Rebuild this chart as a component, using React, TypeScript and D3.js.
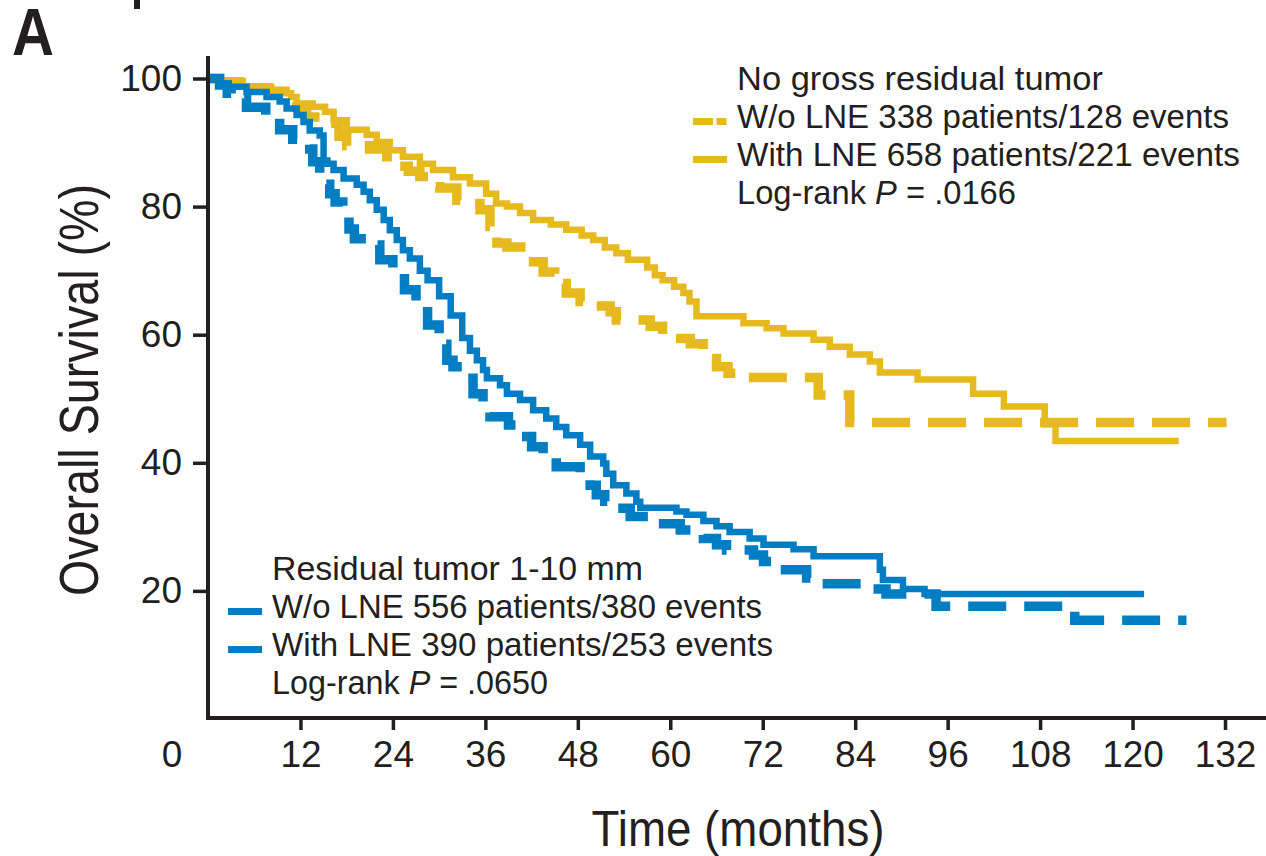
import React, { useRef, useEffect } from 'react';
import * as d3 from 'd3';

// [month, survival %] — survival drops to the value at that month (step after)
const noResWithLne: [number, number][] = [
  [0, 100], [1.6, 99.6], [4.5, 98.8], [7.8, 98.2], [9.3, 97.7], [10.8, 97.1], [11.5, 96.1],
  [13.6, 95.6], [15.2, 94.8], [16.3, 93.5], [18, 92], [20.6, 91.2], [21.9, 90.1], [23.6, 88.8],
  [25.3, 87.8], [27.5, 86.7], [29.2, 85.7], [31.8, 84.6], [34, 83.6], [36.1, 82], [37.4, 80.5],
  [38.8, 80], [40.5, 79], [42.2, 77.9], [44.5, 77.2], [46.5, 76.4], [48.5, 75.5], [50, 74.8],
  [51.5, 73.6], [53, 72.7], [54.5, 71.7], [57, 70.5], [58, 69.3], [59, 68.5], [60.5, 67.5],
  [61.7, 66.5], [62.5, 65.2], [63.4, 62.9], [69.5, 61.8], [72.5, 61], [74.7, 60.2], [78.6, 59.2],
  [80.7, 58.1], [83.3, 56.9], [85.9, 55.8], [87.2, 54.1], [92.1, 53], [99.3, 50.8], [103.3, 48.8],
  [108.6, 46], [110, 43.4],
];
const noResWithLneEnd = 126;

const noResWoLne: [number, number][] = [
  [0, 100], [1.5, 99.5], [4, 99], [6, 98.5], [8, 98], [10, 97], [11.5, 95.5], [12.8, 94],
  [15, 93], [17, 91], [18, 89.5], [21, 89], [23.2, 87.8], [24, 86.3], [26, 85.5], [27.5, 84.7],
  [28.8, 83.1], [30.1, 82.9], [32.3, 81], [34.4, 80.5], [35.3, 79.5], [36.6, 76.9], [37.5, 74.3],
  [38.8, 73.7], [41.3, 71.4], [43.5, 69.8], [45, 68], [46.5, 66.5], [48.3, 65.2], [50, 64.5],
  [52.2, 63.6], [53, 62.3], [57.4, 61.3], [59, 59.4], [62.6, 58.6], [64.3, 56.3], [66, 55],
  [67.5, 54], [69, 53.3], [79.2, 50.6], [83.3, 46.3],
];
const noResWoLneEnd = 132.2;

const resWithLne: [number, number][] = [
  [0, 100], [1.6, 99.2], [2.5, 98.7], [5, 97.9], [7.6, 97.1], [9.3, 96.4], [10.2, 95.3],
  [11.5, 94.3], [12.4, 93.2], [13.2, 91.9], [14.5, 91.1], [15, 87.2], [15.5, 86.7], [16.3, 85.7],
  [17.6, 84.4], [19.3, 83.4], [20.2, 82.3], [21, 81], [21.9, 79.5], [22.8, 77.9], [23.6, 76.3],
  [24.5, 74.8], [25.3, 73.2], [26.2, 71.9], [27.5, 70], [28.5, 68.5], [30, 66], [31.5, 63],
  [33, 59.5], [34, 57.5], [34.9, 56], [35.7, 54.5], [36.2, 53.2], [37.9, 52.1], [38.8, 50.8],
  [40.5, 49.8], [42.2, 48.2], [43.9, 46.9], [45.2, 45.6], [46.5, 44.3], [48.3, 42.8], [49.6, 41],
  [51.3, 39.9], [51.7, 38.3], [52.6, 36.5], [54.3, 35.2], [55.6, 33.9], [56.1, 33], [60.8, 32.4],
  [62.1, 31.9], [64.3, 30.9], [66, 30.1], [67.7, 29.2], [70.3, 28.2], [72.1, 27.2], [76, 26.5],
  [78.6, 25.4], [87.2, 23.3], [87.6, 21.7], [90.2, 20.3], [93, 19.5],
];
const resWithLneEnd = 121.5;

const resWoLne: [number, number][] = [
  [0, 100], [1.5, 99], [2.5, 97.7], [3, 96.9], [5, 95.5], [7.5, 94], [9.3, 92], [11, 90.5],
  [13.2, 89], [13.6, 87], [14.5, 85], [15.2, 83.5], [15.8, 82], [16.5, 80.7], [17.5, 78.5],
  [18.3, 76.5], [19, 75], [20.5, 74], [22.3, 71.7], [24, 69.5], [25.5, 67], [27, 64.5],
  [28.5, 61.5], [30, 58.5], [31, 56], [31.8, 55], [33.1, 53.2], [34.4, 50.8], [35.7, 49.3],
  [36.6, 47.2], [39, 45.9], [40.5, 44.1], [42, 42.5], [43.5, 41.2], [45.2, 39.4], [48.3, 37.8],
  [49.6, 36.5], [50.4, 35], [51.5, 34], [52.6, 32.9], [54.8, 31.6], [58.2, 30.5], [61.3, 29.5],
  [64.3, 28.2], [66, 27.2], [67.3, 26.4], [70.8, 25.6], [72.1, 24.6], [74.2, 23.3], [77.7, 22],
  [79.5, 21.1], [86.3, 20.3], [88, 19.5], [94.5, 17.6], [112.5, 15.4],
];
const resWoLneEnd = 127;

const xTicks = [12, 24, 36, 48, 60, 72, 84, 96, 108, 120, 132];
const yTicks = [20, 40, 60, 80, 100];

const topLegend = ['No gross residual tumor', 'W/o LNE 338 patients/128 events', 'With LNE 658 patients/221 events'];
const topP = '.0166';
const bottomLegend = ['Residual tumor 1-10 mm', 'W/o LNE 556 patients/380 events', 'With LNE 390 patients/253 events'];
const bottomP = '.0650';

const YELLOW = '#e6b91e';
const BLUE = '#007dc3';
const INK = '#231f20';
const FONT = '"Liberation Sans", Arial, Helvetica, sans-serif';

const App: React.FC = () => {
  const svgRef = useRef<SVGSVGElement>(null);

  useEffect(() => {
    if (!svgRef.current) return;
    const svg = d3.select(svgRef.current);
    svg.selectAll('*').remove();

    const x = d3.scaleLinear().domain([0, 132]).range([208, 1225]);
    const y = d3.scaleLinear().domain([0, 100]).range([719, 78.5]);

    // panel letter and stray mark
    svg.append('text').attr('x', 12).attr('y', 55)
      .attr('font-family', FONT).attr('font-weight', 'bold').attr('font-size', 66)
      .attr('textLength', 42).attr('lengthAdjust', 'spacingAndGlyphs')
      .attr('fill', INK).text('A');
    svg.append('rect').attr('x', 134).attr('y', 0).attr('width', 6).attr('height', 9).attr('fill', INK);

    // curves
    const line = d3.line<[number, number]>()
      .x(d => x(d[0])).y(d => y(d[1]))
      .curve(d3.curveStepAfter);

    const withEnd = (pts: [number, number][], end: number): [number, number][] =>
      [...pts, [end, pts[pts.length - 1][1]]];

    const curves = [
      { pts: withEnd(noResWoLne, noResWoLneEnd), color: YELLOW, dashed: true },
      { pts: withEnd(noResWithLne, noResWithLneEnd), color: YELLOW, dashed: false },
      { pts: withEnd(resWoLne, resWoLneEnd), color: BLUE, dashed: true },
      { pts: withEnd(resWithLne, resWithLneEnd), color: BLUE, dashed: false },
    ];

    curves.forEach(c => {
      svg.append('path')
        .attr('d', line(c.pts))
        .attr('fill', 'none')
        .attr('stroke', c.color)
        .attr('stroke-width', c.dashed ? 9.5 : 6.5)
        .attr('stroke-dasharray', c.dashed ? '38 18' : null)
        .attr('stroke-linejoin', 'miter');
    });

    // axes
    const xAxis = d3.axisBottom(x).tickValues(xTicks).tickSize(10).tickPadding(11)
      .tickFormat(d => String(d));
    const gx = svg.append('g').attr('transform', 'translate(0,720)').call(xAxis);
    gx.select('.domain').remove();
    gx.selectAll('.tick line').attr('stroke', INK).attr('stroke-width', 3.5);
    gx.selectAll('.tick text').attr('font-family', FONT).attr('font-size', 37).attr('fill', INK);

    const yAxis = d3.axisLeft(y).tickValues(yTicks).tickSize(13).tickPadding(11)
      .tickFormat(d => String(d));
    const gy = svg.append('g').attr('transform', 'translate(206,0)').call(yAxis);
    gy.select('.domain').remove();
    gy.selectAll('.tick line').attr('stroke', INK).attr('stroke-width', 3.5);
    gy.selectAll('.tick text').attr('font-family', FONT).attr('font-size', 37).attr('fill', INK);

    svg.append('line').attr('x1', 208).attr('x2', 208).attr('y1', 56).attr('y2', 720)
      .attr('stroke', INK).attr('stroke-width', 4);
    svg.append('line').attr('x1', 206).attr('x2', 1266).attr('y1', 718).attr('y2', 718)
      .attr('stroke', INK).attr('stroke-width', 4);

    // zero label sits apart from the axis
    svg.append('text').attr('x', 172).attr('y', 767).attr('text-anchor', 'middle')
      .attr('font-family', FONT).attr('font-size', 37).attr('fill', INK).text('0');

    // axis titles
    svg.append('text')
      .attr('transform', 'translate(98,390) rotate(-90)')
      .attr('text-anchor', 'middle')
      .attr('font-family', FONT).attr('font-size', 56)
      .attr('textLength', 412).attr('lengthAdjust', 'spacingAndGlyphs')
      .attr('fill', INK).text('Overall Survival (%)');
    svg.append('text')
      .attr('x', 738).attr('y', 846).attr('text-anchor', 'middle')
      .attr('font-family', FONT).attr('font-size', 50)
      .attr('textLength', 293).attr('lengthAdjust', 'spacingAndGlyphs')
      .attr('fill', INK).text('Time (months)');

    // legends
    const drawLegend = (
      x0: number, y0: number, lines: string[], p: string, color: string,
      widths: number[], dashedFirst: boolean,
    ) => {
      const step = 38;
      lines.forEach((t, i) => {
        svg.append('text').attr('x', x0).attr('y', y0 + i * step)
          .attr('font-family', FONT).attr('font-size', 33).attr('fill', INK)
          .attr('textLength', widths[i]).attr('lengthAdjust', 'spacingAndGlyphs')
          .text(t);
      });
      const pt = svg.append('text').attr('x', x0).attr('y', y0 + 3 * step)
        .attr('font-family', FONT).attr('font-size', 33).attr('fill', INK)
        .attr('textLength', widths[3]).attr('lengthAdjust', 'spacingAndGlyphs');
      pt.append('tspan').text('Log-rank ');
      pt.append('tspan').attr('font-style', 'italic').text('P');
      pt.append('tspan').text(` = ${p}`);

      // line samples
      [1, 2].forEach(i => {
        const yy = y0 + i * step - 6.5;
        if (i === 1 && dashedFirst) {
          svg.append('line').attr('x1', x0 - 44).attr('x2', x0 - 24).attr('y1', yy).attr('y2', yy)
            .attr('stroke', color).attr('stroke-width', 7);
          svg.append('line').attr('x1', x0 - 20.5).attr('x2', x0 - 10.5).attr('y1', yy).attr('y2', yy)
            .attr('stroke', color).attr('stroke-width', 7);
        } else {
          svg.append('line').attr('x1', x0 - 44).attr('x2', x0 - 10).attr('y1', yy).attr('y2', yy)
            .attr('stroke', color).attr('stroke-width', 7);
        }
      });
    };

    drawLegend(737, 90, topLegend, topP, YELLOW, [366, 492, 503, 279], true);
    drawLegend(272, 580, bottomLegend, bottomP, BLUE, [371, 490, 501, 276], false);
  }, []);

  return (
    <svg
      ref={svgRef}
      width={1266}
      height={856}
      style={{ position: 'absolute', left: 0, top: 0, display: 'block', background: '#fff' }}
    />
  );
};

export default App;
